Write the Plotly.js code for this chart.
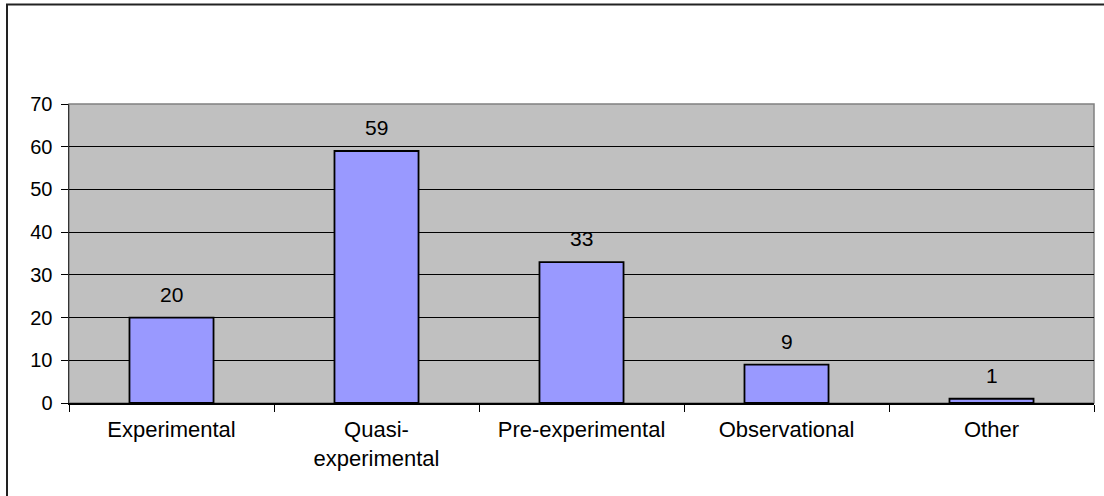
<!DOCTYPE html>
<html>
<head>
<meta charset="utf-8">
<script src="https://cdn.plot.ly/plotly-3.0.1.min.js"></script>
<style>html,body{margin:0;padding:0;background:#fff;}#chart{width:1104px;height:496px;}</style>
</head>
<body>
<div id="chart"></div>
<script>
const categories = ["Experimental", "Quasi-<br>experimental", "Pre-experimental", "Observational", "Other"];
const values = [20, 59, 33, 9, 1];
const yTicks = [0, 10, 20, 30, 40, 50, 60, 70];

const W = 1104, H = 496;
const L = 69, R = 10, T = 104, B = 93;
const pw = W - L - R, ph = H - T - B;
function px2x(p){ return (p - L) / pw; }
function py2y(p){ return (H - B - p) / ph; }

const FONT = 'Liberation Sans, Arial, sans-serif';

const trace = {
  type: 'bar',
  x: categories,
  y: values,
  width: 0.41,
  marker: {color: '#9999FF', line: {color: '#000000', width: 1.8}},
  hoverinfo: 'skip'
};

const annotations = categories.map((c, i) => ({
  x: c, y: values[i], xref: 'x', yref: 'y',
  text: String(values[i]), showarrow: false,
  yanchor: 'bottom', yshift: 10,
  font: {family: FONT, size: 21, color: '#000'}
}));

const layout = {
  width: W, height: H,
  margin: {l: L, r: R, t: T, b: B, pad: 0},
  paper_bgcolor: '#FFFFFF',
  plot_bgcolor: '#C0C0C0',
  showlegend: false,
  font: {family: FONT, size: 20, color: '#000'},
  xaxis: {
    type: 'category',
    tickson: 'boundaries',
    ticks: 'outside', ticklen: 7, tickcolor: '#000', tickwidth: 1,
    showline: true, linecolor: '#000', linewidth: 1.5,
    showgrid: false, zeroline: false,
    tickfont: {family: FONT, size: 22},
    ticklabelstandoff: 6,
    fixedrange: true
  },
  yaxis: {
    range: [0, 70],
    tickvals: yTicks,
    ticktext: yTicks.map(String),
    ticks: 'outside', ticklen: 7, tickcolor: '#000', tickwidth: 1,
    showline: true, linecolor: '#333', linewidth: 1.5,
    showgrid: true, gridcolor: '#000', gridwidth: 1,
    zeroline: false,
    tickfont: {family: FONT, size: 20},
    ticklabelstandoff: 4,
    fixedrange: true
  },
  annotations: annotations,
  shapes: [
    {type: 'rect', xref: 'paper', yref: 'paper', x0: 0, x1: 1, y0: 0, y1: 1,
     line: {color: '#808080', width: 1.5}, layer: 'below'},
    {type: 'rect', xref: 'paper', yref: 'paper',
     x0: px2x(7), x1: px2x(1115), y0: py2y(510), y1: py2y(4.5),
     line: {color: '#222', width: 2}, fillcolor: 'rgba(0,0,0,0)', layer: 'above'}
  ]
};

Plotly.newPlot('chart', [trace], layout, {displayModeBar: false, staticPlot: true});
</script>
</body>
</html>
